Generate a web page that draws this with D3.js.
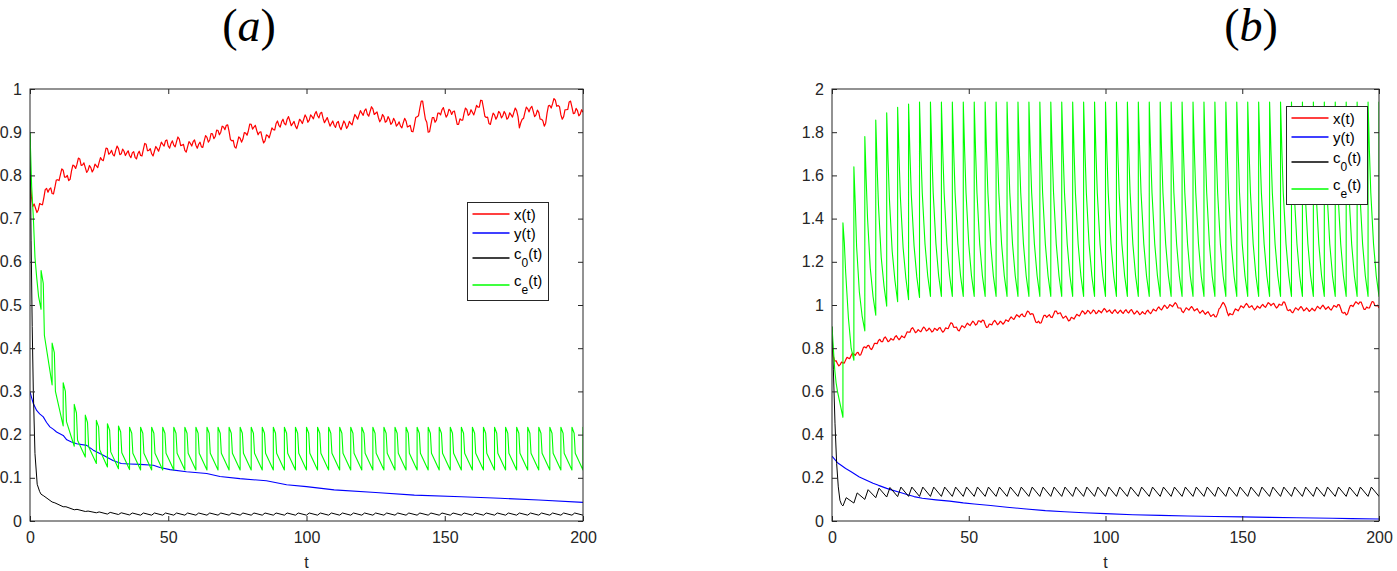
<!DOCTYPE html>
<html>
<head>
<meta charset="utf-8">
<script src="https://cdn.jsdelivr.net/npm/d3@7/dist/d3.min.js"></script>
<style>
body { margin: 0; background: #fff; }
svg { display: block; font-family: "Liberation Sans", Arial, sans-serif; }
</style>
</head>
<body>
<svg id="chart" width="1397" height="571"></svg>
<script>
// ---- data ----
var PERIOD = 4;           // dosing interval, one tooth every 4 time units
var T_MAX = 200;

var xTicks = [0, 50, 100, 150, 200];
var yTicksA = [0, 0.1, 0.2, 0.3, 0.4, 0.5, 0.6, 0.7, 0.8, 0.9, 1];
var yLabelsA = ["0", "0.1", "0.2", "0.3", "0.4", "0.5", "0.6", "0.7", "0.8", "0.9", "1"];
var yTicksB = [0, 0.2, 0.4, 0.6, 0.8, 1, 1.2, 1.4, 1.6, 1.8, 2];
var yLabelsB = ["0", "0.2", "0.4", "0.6", "0.8", "1", "1.2", "1.4", "1.6", "1.8", "2"];

// x(t), sampled at t = 0,1,...,200
var redA = [
  0.800,0.728,0.724,0.720,0.733,0.748,0.770,0.768,0.758,0.772,
  0.790,0.802,0.812,0.796,0.788,0.810,0.822,0.826,0.838,0.824,
  0.818,0.812,0.818,0.814,0.822,0.830,0.836,0.848,0.862,0.852,
  0.848,0.858,0.862,0.850,0.856,0.852,0.846,0.852,0.842,0.850,
  0.846,0.860,0.872,0.858,0.850,0.856,0.862,0.866,0.872,0.880,
  0.868,0.874,0.870,0.878,0.884,0.870,0.858,0.866,0.874,0.878,
  0.870,0.872,0.866,0.880,0.888,0.882,0.896,0.890,0.904,0.900,
  0.912,0.916,0.902,0.880,0.866,0.876,0.886,0.884,0.898,0.904,
  0.918,0.912,0.904,0.900,0.886,0.880,0.892,0.898,0.906,0.920,
  0.916,0.924,0.920,0.930,0.926,0.920,0.914,0.918,0.926,0.930,
  0.934,0.928,0.936,0.942,0.938,0.944,0.932,0.928,0.924,0.920,
  0.916,0.922,0.912,0.916,0.920,0.914,0.920,0.930,0.936,0.940,
  0.944,0.950,0.942,0.948,0.954,0.944,0.934,0.930,0.936,0.926,
  0.930,0.922,0.926,0.918,0.914,0.922,0.926,0.914,0.902,0.916,
  0.936,0.956,0.972,0.930,0.900,0.918,0.934,0.928,0.944,0.952,
  0.946,0.940,0.950,0.948,0.934,0.918,0.928,0.944,0.952,0.942,
  0.946,0.950,0.958,0.974,0.956,0.934,0.920,0.932,0.940,0.936,
  0.944,0.938,0.942,0.934,0.940,0.946,0.950,0.910,0.930,0.946,
  0.954,0.956,0.948,0.940,0.946,0.930,0.914,0.944,0.962,0.966,
  0.974,0.962,0.940,0.936,0.952,0.970,0.958,0.944,0.950,0.942,
  0.946
];
// x(t) at t = 0.5,1.5,...,199.5 (the fast jitter between the whole steps)
var redAMid = [
  0.752,0.734,0.714,0.735,0.732,0.767,0.761,0.771,0.757,0.789,
  0.788,0.815,0.796,0.800,0.791,0.824,0.816,0.840,0.823,0.829,
  0.807,0.823,0.808,0.826,0.818,0.841,0.834,0.863,0.849,0.858,
  0.845,0.868,0.848,0.861,0.846,0.857,0.841,0.855,0.838,0.856,
  0.845,0.874,0.857,0.862,0.845,0.867,0.856,0.877,0.868,0.882,
  0.863,0.880,0.866,0.889,0.869,0.872,0.854,0.878,0.868,0.882,
  0.863,0.877,0.865,0.892,0.877,0.897,0.885,0.905,0.894,0.914,
  0.906,0.917,0.883,0.881,0.863,0.889,0.877,0.899,0.893,0.919,
  0.907,0.916,0.894,0.901,0.875,0.894,0.887,0.910,0.905,0.926,
  0.912,0.930,0.917,0.936,0.915,0.925,0.908,0.930,0.920,0.940,
  0.923,0.940,0.931,0.948,0.933,0.946,0.922,0.934,0.914,0.926,
  0.911,0.925,0.906,0.926,0.909,0.925,0.917,0.941,0.930,0.950,
  0.939,0.954,0.937,0.959,0.941,0.947,0.924,0.941,0.923,0.936,
  0.918,0.932,0.914,0.924,0.910,0.932,0.912,0.916,0.901,0.934,
  0.938,0.972,0.950,0.923,0.901,0.934,0.923,0.944,0.940,0.957,
  0.935,0.953,0.941,0.949,0.918,0.931,0.928,0.956,0.939,0.952,
  0.940,0.962,0.958,0.973,0.937,0.935,0.918,0.944,0.930,0.948,
  0.933,0.948,0.930,0.945,0.935,0.956,0.936,0.922,0.932,0.958,
  0.947,0.960,0.936,0.951,0.930,0.926,0.921,0.961,0.956,0.978,
  0.960,0.959,0.930,0.952,0.953,0.972,0.943,0.955,0.938,0.952
];
var redB = [
  0.800,0.740,0.728,0.724,0.732,0.746,0.754,0.766,0.772,0.778,
  0.768,0.786,0.806,0.812,0.798,0.806,0.822,0.836,0.830,0.846,
  0.842,0.834,0.840,0.852,0.848,0.846,0.852,0.862,0.874,0.890,
  0.884,0.876,0.880,0.888,0.892,0.884,0.886,0.880,0.888,0.892,
  0.884,0.880,0.892,0.906,0.914,0.896,0.884,0.892,0.900,0.906,
  0.910,0.916,0.918,0.912,0.926,0.930,0.910,0.898,0.910,0.922,
  0.920,0.914,0.920,0.918,0.928,0.936,0.938,0.944,0.950,0.954,
  0.948,0.960,0.968,0.960,0.940,0.918,0.916,0.936,0.952,0.950,
  0.944,0.956,0.972,0.962,0.950,0.944,0.938,0.930,0.940,0.946,
  0.952,0.962,0.968,0.964,0.970,0.966,0.972,0.964,0.970,0.974,
  0.978,0.972,0.966,0.972,0.968,0.970,0.966,0.972,0.968,0.974,
  0.968,0.964,0.966,0.960,0.962,0.970,0.966,0.970,0.976,0.984,
  0.982,0.988,0.994,0.990,0.998,1.002,1.004,0.986,0.970,0.976,
  0.982,0.986,0.984,0.978,0.972,0.968,0.966,0.964,0.958,0.952,
  0.946,0.960,0.988,1.012,0.990,0.950,0.956,0.970,0.978,0.984,
  0.992,0.998,1.000,0.992,0.986,0.984,0.990,0.996,0.994,1.000,
  1.006,1.004,0.996,0.992,1.000,1.014,0.996,0.974,0.968,0.976,
  0.982,0.986,0.984,0.978,0.980,0.976,0.978,0.984,0.988,0.992,
  0.990,0.986,0.982,0.986,0.994,1.002,0.984,0.962,0.954,0.980,
  0.998,1.004,1.010,1.014,0.996,0.980,0.986,1.002,1.014,0.996,
  0.986
];
var redBMid = [
  0.762,0.742,0.718,0.736,0.731,0.758,0.752,0.777,0.767,0.781,
  0.769,0.804,0.801,0.813,0.794,0.822,0.821,0.841,0.830,0.852,
  0.830,0.845,0.838,0.858,0.839,0.857,0.849,0.876,0.874,0.895,
  0.872,0.886,0.876,0.898,0.880,0.893,0.875,0.892,0.882,0.896,
  0.874,0.894,0.891,0.918,0.897,0.898,0.880,0.904,0.895,0.916,
  0.905,0.925,0.907,0.927,0.920,0.928,0.896,0.912,0.908,0.929,
  0.909,0.925,0.911,0.931,0.924,0.945,0.933,0.955,0.944,0.959,
  0.946,0.972,0.956,0.958,0.921,0.925,0.918,0.952,0.943,0.955,
  0.942,0.972,0.959,0.964,0.939,0.949,0.926,0.943,0.935,0.957,
  0.949,0.973,0.958,0.975,0.960,0.977,0.960,0.975,0.964,0.984,
  0.967,0.977,0.961,0.978,0.961,0.976,0.961,0.978,0.963,0.979,
  0.958,0.973,0.955,0.969,0.958,0.976,0.960,0.981,0.972,0.991,
  0.977,0.999,0.984,1.002,0.992,1.011,0.987,0.986,0.965,0.987,
  0.976,0.993,0.973,0.983,0.962,0.975,0.957,0.969,0.947,0.957,
  0.945,0.982,1.002,1.004,0.966,0.961,0.955,0.982,0.973,0.996,
  0.987,1.007,0.988,0.997,0.977,0.995,0.985,1.003,0.989,1.011,
  0.997,1.008,0.986,1.004,0.999,1.013,0.977,0.979,0.964,0.987,
  0.976,0.993,0.973,0.987,0.970,0.985,0.973,0.994,0.982,0.999,
  0.980,0.992,0.976,0.998,0.990,1.001,0.965,0.966,0.959,0.997,
  0.993,1.015,1.004,1.013,0.980,0.991,0.986,1.016,0.997,0.999
];

// y(t), [t, value]
var blueA = [[0,0.299],[0.6,0.285],[1.2,0.272],[2.4,0.256],[3.5,0.248],[4.8,0.241],[6,0.228],
  [7.2,0.218],[8.5,0.212],[9.6,0.206],[12,0.198],[13.3,0.188],[15,0.183],[16.9,0.179],
  [20.5,0.175],[22.9,0.164],[26.5,0.152],[30,0.14],[33,0.133],[36,0.132],[39.8,0.131],
  [44.6,0.129],[47,0.124],[50.6,0.119],[56.6,0.114],[63.9,0.11],[68.7,0.103],[75.9,0.098],
  [85.5,0.093],[92.8,0.084],[100,0.0795],[110,0.072],[125,0.066],[139,0.060],[156,0.056],
  [170,0.0525],[184,0.0487],[200,0.043]];
var blueB = [[0,0.30],[1,0.285],[2,0.27],[3.2,0.259],[5,0.243],[7,0.228],[9,0.212],[10,0.204],
  [12.4,0.19],[15,0.175],[17,0.165],[20,0.151],[22,0.143],[25,0.132],[28,0.12],[30,0.113],
  [33,0.105],[38,0.098],[43,0.092],[48,0.084],[52,0.079],[58,0.072],[64,0.064],[70,0.057],
  [78,0.048],[85,0.043],[92,0.038],[100,0.034],[110,0.029],[120,0.026],[130,0.023],
  [140,0.021],[150,0.019],[160,0.017],[170,0.015],[183,0.0125],[190,0.011],[200,0.009]];

// c_e(t), panel a: start, then one tooth per dose (values at dose + 0, 0.8, 1.2, 4)
var greenAStart = [[0,0.9],[0.6,0.774],[1.2,0.704],[1.8,0.61],[2.4,0.565],[3.1,0.52],[4,0.49]];
var greenAOffsets = [0, 0.8, 1.2, 4];
var greenAPeak = [
  0.58,0.412,0.32,0.27,0.245,0.233,0.225,0.22,0.217,0.217,
  0.217,0.217,0.217,0.217,0.217,0.217,0.217,0.217,0.217,0.217,
  0.217,0.217,0.217,0.217,0.217,0.217,0.217,0.217,0.217,0.217,
  0.217,0.217,0.217,0.217,0.217,0.217,0.217,0.217,0.217,0.217,
  0.217,0.217,0.217,0.217,0.217,0.217,0.217,0.217,0.217,0.217];
var greenAKnee = [
  0.55,0.39,0.30,0.25,0.228,0.218,0.21,0.206,0.203,0.203,
  0.203,0.203,0.203,0.203,0.203,0.203,0.203,0.203,0.203,0.203,
  0.203,0.203,0.203,0.203,0.203,0.203,0.203,0.203,0.203,0.203,
  0.203,0.203,0.203,0.203,0.203,0.203,0.203,0.203,0.203,0.203,
  0.203,0.203,0.203,0.203,0.203,0.203,0.203,0.203,0.203,0.203];
var greenADrop = [
  0.43,0.30,0.23,0.187,0.172,0.165,0.16,0.158,0.157,0.157,
  0.157,0.157,0.157,0.157,0.157,0.157,0.157,0.157,0.157,0.157,
  0.157,0.157,0.157,0.157,0.157,0.157,0.157,0.157,0.157,0.157,
  0.157,0.157,0.157,0.157,0.157,0.157,0.157,0.157,0.157,0.157,
  0.157,0.157,0.157,0.157,0.157,0.157,0.157,0.157,0.157,0.157];
var greenATrough = [
  0.315,0.22,0.173,0.148,0.133,0.125,0.121,0.119,0.118,0.118,
  0.118,0.118,0.118,0.118,0.118,0.118,0.118,0.118,0.118,0.118,
  0.118,0.118,0.118,0.118,0.118,0.118,0.118,0.118,0.118,0.118,
  0.118,0.118,0.118,0.118,0.118,0.118,0.118,0.118,0.118,0.118,
  0.118,0.118,0.118,0.118,0.118,0.118,0.118,0.118,0.118,0.118];

// c_0(t), panel a: start, then values at dose + 1 and dose + 4
var blackAStart = [[0,0.9],[0.4,0.65],[0.8,0.45],[1.2,0.3],[1.8,0.156],[2.6,0.085],[3.5,0.068],[4,0.062]];
var blackAOffsets = [1, 4];
var blackAPeak = [
  0.058,0.042,0.033,0.027,0.023,0.021,0.02,0.019,0.0185,0.0185,
  0.0185,0.0185,0.0185,0.0185,0.0185,0.0185,0.0185,0.0185,0.0185,0.0185,
  0.0185,0.0185,0.0185,0.0185,0.0185,0.0185,0.0185,0.0185,0.0185,0.0185,
  0.0185,0.0185,0.0185,0.0185,0.0185,0.0185,0.0185,0.0185,0.0185,0.0185,
  0.0185,0.0185,0.0185,0.0185,0.0185,0.0185,0.0185,0.0185,0.0185,0.0185];
var blackATrough = [
  0.044,0.033,0.026,0.022,0.019,0.016,0.015,0.014,0.0135,0.0135,
  0.0135,0.0135,0.0135,0.0135,0.0135,0.0135,0.0135,0.0135,0.0135,0.0135,
  0.0135,0.0135,0.0135,0.0135,0.0135,0.0135,0.0135,0.0135,0.0135,0.0135,
  0.0135,0.0135,0.0135,0.0135,0.0135,0.0135,0.0135,0.0135,0.0135,0.0135,
  0.0135,0.0135,0.0135,0.0135,0.0135,0.0135,0.0135,0.0135,0.0135,0.0135];

// c_e(t), panel b: values at dose + 0, 0.5, 1, 2, 3, 4
var greenBStart = [[0,0.9],[0.5,0.8],[1,0.7],[1.5,0.64],[2,0.6],[3,0.54],[4,0.48]];
var greenBOffsets = [0, 0.5, 1, 2, 3, 4];
var greenBPeak = [
  1.38,1.64,1.78,1.856,1.89,1.915,1.93,1.94,1.94,1.94,
  1.94,1.94,1.94,1.94,1.94,1.94,1.94,1.94,1.94,1.94,
  1.94,1.94,1.94,1.94,1.94,1.94,1.94,1.94,1.94,1.94,
  1.94,1.94,1.94,1.94,1.94,1.94,1.94,1.94,1.94,1.94,
  1.94,1.94,1.94,1.94,1.94,1.94,1.94,1.94,1.94,1.94];
var greenBHalf = [
  1.29,1.47,1.58,1.64,1.67,1.69,1.70,1.71,1.71,1.71,
  1.71,1.71,1.71,1.71,1.71,1.71,1.71,1.71,1.71,1.71,
  1.71,1.71,1.71,1.71,1.71,1.71,1.71,1.71,1.71,1.71,
  1.71,1.71,1.71,1.71,1.71,1.71,1.71,1.71,1.71,1.71,
  1.71,1.71,1.71,1.71,1.71,1.71,1.71,1.71,1.71,1.71];
var greenBOne = [
  1.15,1.27,1.40,1.46,1.49,1.50,1.51,1.52,1.52,1.52,
  1.52,1.52,1.52,1.52,1.52,1.52,1.52,1.52,1.52,1.52,
  1.52,1.52,1.52,1.52,1.52,1.52,1.52,1.52,1.52,1.52,
  1.52,1.52,1.52,1.52,1.52,1.52,1.52,1.52,1.52,1.52,
  1.52,1.52,1.52,1.52,1.52,1.52,1.52,1.52,1.52,1.52];
var greenBTwo = [
  0.94,1.06,1.17,1.22,1.25,1.265,1.275,1.283,1.283,1.283,
  1.283,1.283,1.283,1.283,1.283,1.283,1.283,1.283,1.283,1.283,
  1.283,1.283,1.283,1.283,1.283,1.283,1.283,1.283,1.283,1.283,
  1.283,1.283,1.283,1.283,1.283,1.283,1.283,1.283,1.283,1.283,
  1.283,1.283,1.283,1.283,1.283,1.283,1.283,1.283,1.283,1.283];
var greenBThree = [
  0.80,0.95,1.04,1.09,1.115,1.125,1.13,1.135,1.135,1.135,
  1.135,1.135,1.135,1.135,1.135,1.135,1.135,1.135,1.135,1.135,
  1.135,1.135,1.135,1.135,1.135,1.135,1.135,1.135,1.135,1.135,
  1.135,1.135,1.135,1.135,1.135,1.135,1.135,1.135,1.135,1.135,
  1.135,1.135,1.135,1.135,1.135,1.135,1.135,1.135,1.135,1.135];
var greenBTrough = [
  0.744,0.88,0.953,0.995,1.015,1.025,1.035,1.04,1.04,1.04,
  1.04,1.04,1.04,1.04,1.04,1.04,1.04,1.04,1.04,1.04,
  1.04,1.04,1.04,1.04,1.04,1.04,1.04,1.04,1.04,1.04,
  1.04,1.04,1.04,1.04,1.04,1.04,1.04,1.04,1.04,1.04,
  1.04,1.04,1.04,1.04,1.04,1.04,1.04,1.04,1.04,1.04];

// c_0(t), panel b: values at dose + 1.2 and dose + 4
var blackBStart = [[0,0.9],[0.5,0.70],[1.1,0.45],[1.7,0.266],[2.3,0.158],[2.9,0.096],[3.5,0.076],[4,0.07]];
var blackBOffsets = [1.2, 4];
var blackBPeak = [
  0.108,0.13,0.145,0.152,0.155,0.157,0.157,0.157,0.157,0.157,
  0.157,0.157,0.157,0.157,0.157,0.157,0.157,0.157,0.157,0.157,
  0.157,0.157,0.157,0.157,0.157,0.157,0.157,0.157,0.157,0.157,
  0.157,0.157,0.157,0.157,0.157,0.157,0.157,0.157,0.157,0.157,
  0.157,0.157,0.157,0.157,0.157,0.157,0.157,0.157,0.157,0.157];
var blackBTrough = [
  0.083,0.10,0.108,0.111,0.113,0.114,0.114,0.114,0.114,0.114,
  0.114,0.114,0.114,0.114,0.114,0.114,0.114,0.114,0.114,0.114,
  0.114,0.114,0.114,0.114,0.114,0.114,0.114,0.114,0.114,0.114,
  0.114,0.114,0.114,0.114,0.114,0.114,0.114,0.114,0.114,0.114,
  0.114,0.114,0.114,0.114,0.114,0.114,0.114,0.114,0.114,0.114];

// ---- build point lists ----
function jittered(whole, mid) {
  var pts = [];
  whole.forEach(function(v, i) {
    pts.push([i, v]);
    if (i < mid.length) pts.push([i + 0.5, mid[i]]);
  });
  return pts;
}

function teeth(start, offsets, cols) {
  var pts = start.slice();
  for (var k = 0; k < cols[0].length; k++) {
    for (var j = 0; j < offsets.length; j++) {
      pts.push([PERIOD * (k + 1) + offsets[j], cols[j][k]]);
    }
  }
  return pts;
}

var panels = [
  {
    id: "a", x0: 30, x1: 583, yMax: 1, yTicks: yTicksA, yLabels: yLabelsA,
    titleX: 249, legendX: 467, legendY: 202,
    lines: [
      { name: "x", color: "#ff0000", width: 1.2, pts: jittered(redA, redAMid) },
      { name: "y", color: "#0000ff", width: 1.1, pts: blueA },
      { name: "c0", color: "#000000", width: 1, pts: teeth(blackAStart, blackAOffsets, [blackAPeak, blackATrough]) },
      { name: "ce", color: "#00ff00", width: 1.1, pts: teeth(greenAStart, greenAOffsets, [greenAPeak, greenAKnee, greenADrop, greenATrough]) }
    ]
  },
  {
    id: "b", x0: 832, x1: 1379, yMax: 2, yTicks: yTicksB, yLabels: yLabelsB,
    titleX: 1251, legendX: 1286, legendY: 106,
    lines: [
      { name: "x", color: "#ff0000", width: 1.2, pts: jittered(redB, redBMid) },
      { name: "y", color: "#0000ff", width: 1.1, pts: blueB },
      { name: "c0", color: "#000000", width: 1, pts: teeth(blackBStart, blackBOffsets, [blackBPeak, blackBTrough]) },
      { name: "ce", color: "#00ff00", width: 1.1, pts: teeth(greenBStart, greenBOffsets, [greenBPeak, greenBHalf, greenBOne, greenBTwo, greenBThree, greenBTrough]) }
    ]
  }
];

var TOP = 89, BOTTOM = 521;
var AXIS_COLOR = "#262626";

var svg = d3.select("#chart");

function drawPanel(p) {
  var g = svg.append("g").attr("class", "panel-" + p.id);
  var x = d3.scaleLinear().domain([0, T_MAX]).range([p.x0, p.x1]);
  var y = d3.scaleLinear().domain([0, p.yMax]).range([BOTTOM, TOP]);

  g.append("clipPath").attr("id", "clip-" + p.id)
    .append("rect").attr("x", p.x0).attr("y", TOP)
    .attr("width", p.x1 - p.x0).attr("height", BOTTOM - TOP);

  var line = d3.line().x(function(d) { return x(d[0]); }).y(function(d) { return y(d[1]); });

  g.append("g").attr("clip-path", "url(#clip-" + p.id + ")")
    .selectAll("path.series").data(p.lines).enter().append("path")
      .attr("class", "series")
      .attr("d", function(d) { return line(d.pts); })
      .attr("fill", "none")
      .attr("stroke", function(d) { return d.color; })
      .attr("stroke-width", function(d) { return d.width; })
      .attr("stroke-linejoin", "round");

  // axes, MATLAB style: ticks inside on all four sides
  var bottom = g.append("g").attr("transform", "translate(0," + BOTTOM + ")")
    .call(d3.axisBottom(x).tickValues(xTicks).tickSizeInner(-5).tickSizeOuter(0).tickPadding(11));
  var top = g.append("g").attr("transform", "translate(0," + TOP + ")")
    .call(d3.axisTop(x).tickValues(xTicks).tickSizeInner(-5).tickSizeOuter(0).tickFormat(""));
  var left = g.append("g").attr("transform", "translate(" + p.x0 + ",0)")
    .call(d3.axisLeft(y).tickValues(p.yTicks).tickSizeInner(-5).tickSizeOuter(0).tickPadding(8)
      .tickFormat(function(d, i) { return p.yLabels[i]; }));
  var right = g.append("g").attr("transform", "translate(" + p.x1 + ",0)")
    .call(d3.axisRight(y).tickValues(p.yTicks).tickSizeInner(-5).tickSizeOuter(0).tickFormat(""));

  [bottom, top, left, right].forEach(function(a) {
    a.select(".domain").remove();
    a.selectAll("line").attr("stroke", AXIS_COLOR);
    a.selectAll("text").attr("fill", AXIS_COLOR).style("font-size", "16px")
      .style("font-family", '"Liberation Sans", Arial, sans-serif');
  });

  g.append("rect").attr("x", p.x0).attr("y", TOP)
    .attr("width", p.x1 - p.x0).attr("height", BOTTOM - TOP)
    .attr("fill", "none").attr("stroke", AXIS_COLOR).attr("stroke-width", 1);

  g.append("text").attr("x", (p.x0 + p.x1) / 2).attr("y", 568)
    .attr("text-anchor", "middle").attr("fill", AXIS_COLOR)
    .style("font-size", "16px").text("t");

  // panel title (a) / (b)
  var title = g.append("text").attr("x", p.titleX).attr("y", 41)
    .attr("text-anchor", "middle")
    .style("font-family", '"Liberation Serif", "DejaVu Serif", serif')
    .style("font-size", "46px").attr("fill", "#000");
  title.append("tspan").text("(");
  title.append("tspan").style("font-style", "italic").text(p.id);
  title.append("tspan").text(")");

  // legend
  var rowY = [12, 31, 56, 83];
  var lg = g.append("g").attr("transform", "translate(" + p.legendX + "," + p.legendY + ")");
  lg.append("rect").attr("x", 0.5).attr("y", 0.5).attr("width", 81).attr("height", 98)
    .attr("fill", "#fff").attr("stroke", AXIS_COLOR).attr("stroke-width", 1);
  var rows = lg.selectAll("g.row").data(p.lines).enter().append("g")
    .attr("class", "row")
    .attr("transform", function(d, i) { return "translate(0," + rowY[i] + ")"; });
  rows.append("line").attr("x1", 5.5).attr("x2", 42.5).attr("y1", 0).attr("y2", 0)
    .attr("stroke", function(d) { return d.color; })
    .attr("stroke-opacity", 0.75).attr("stroke-width", 2);
  rows.each(function(d) {
    var t = d3.select(this).append("text").attr("x", 47).attr("fill", "#000")
      .style("font-size", "15px");
    if (d.name.length === 1) {
      t.attr("y", 5.5).text(d.name + "(t)");
    } else {
      t.attr("y", 1);
      t.append("tspan").text("c");
      t.append("tspan").attr("dy", 8).style("font-size", "12px").text(d.name.charAt(1));
      t.append("tspan").attr("dy", -8).text("(t)");
    }
  });
}

panels.forEach(drawPanel);
</script>
</body>
</html>
